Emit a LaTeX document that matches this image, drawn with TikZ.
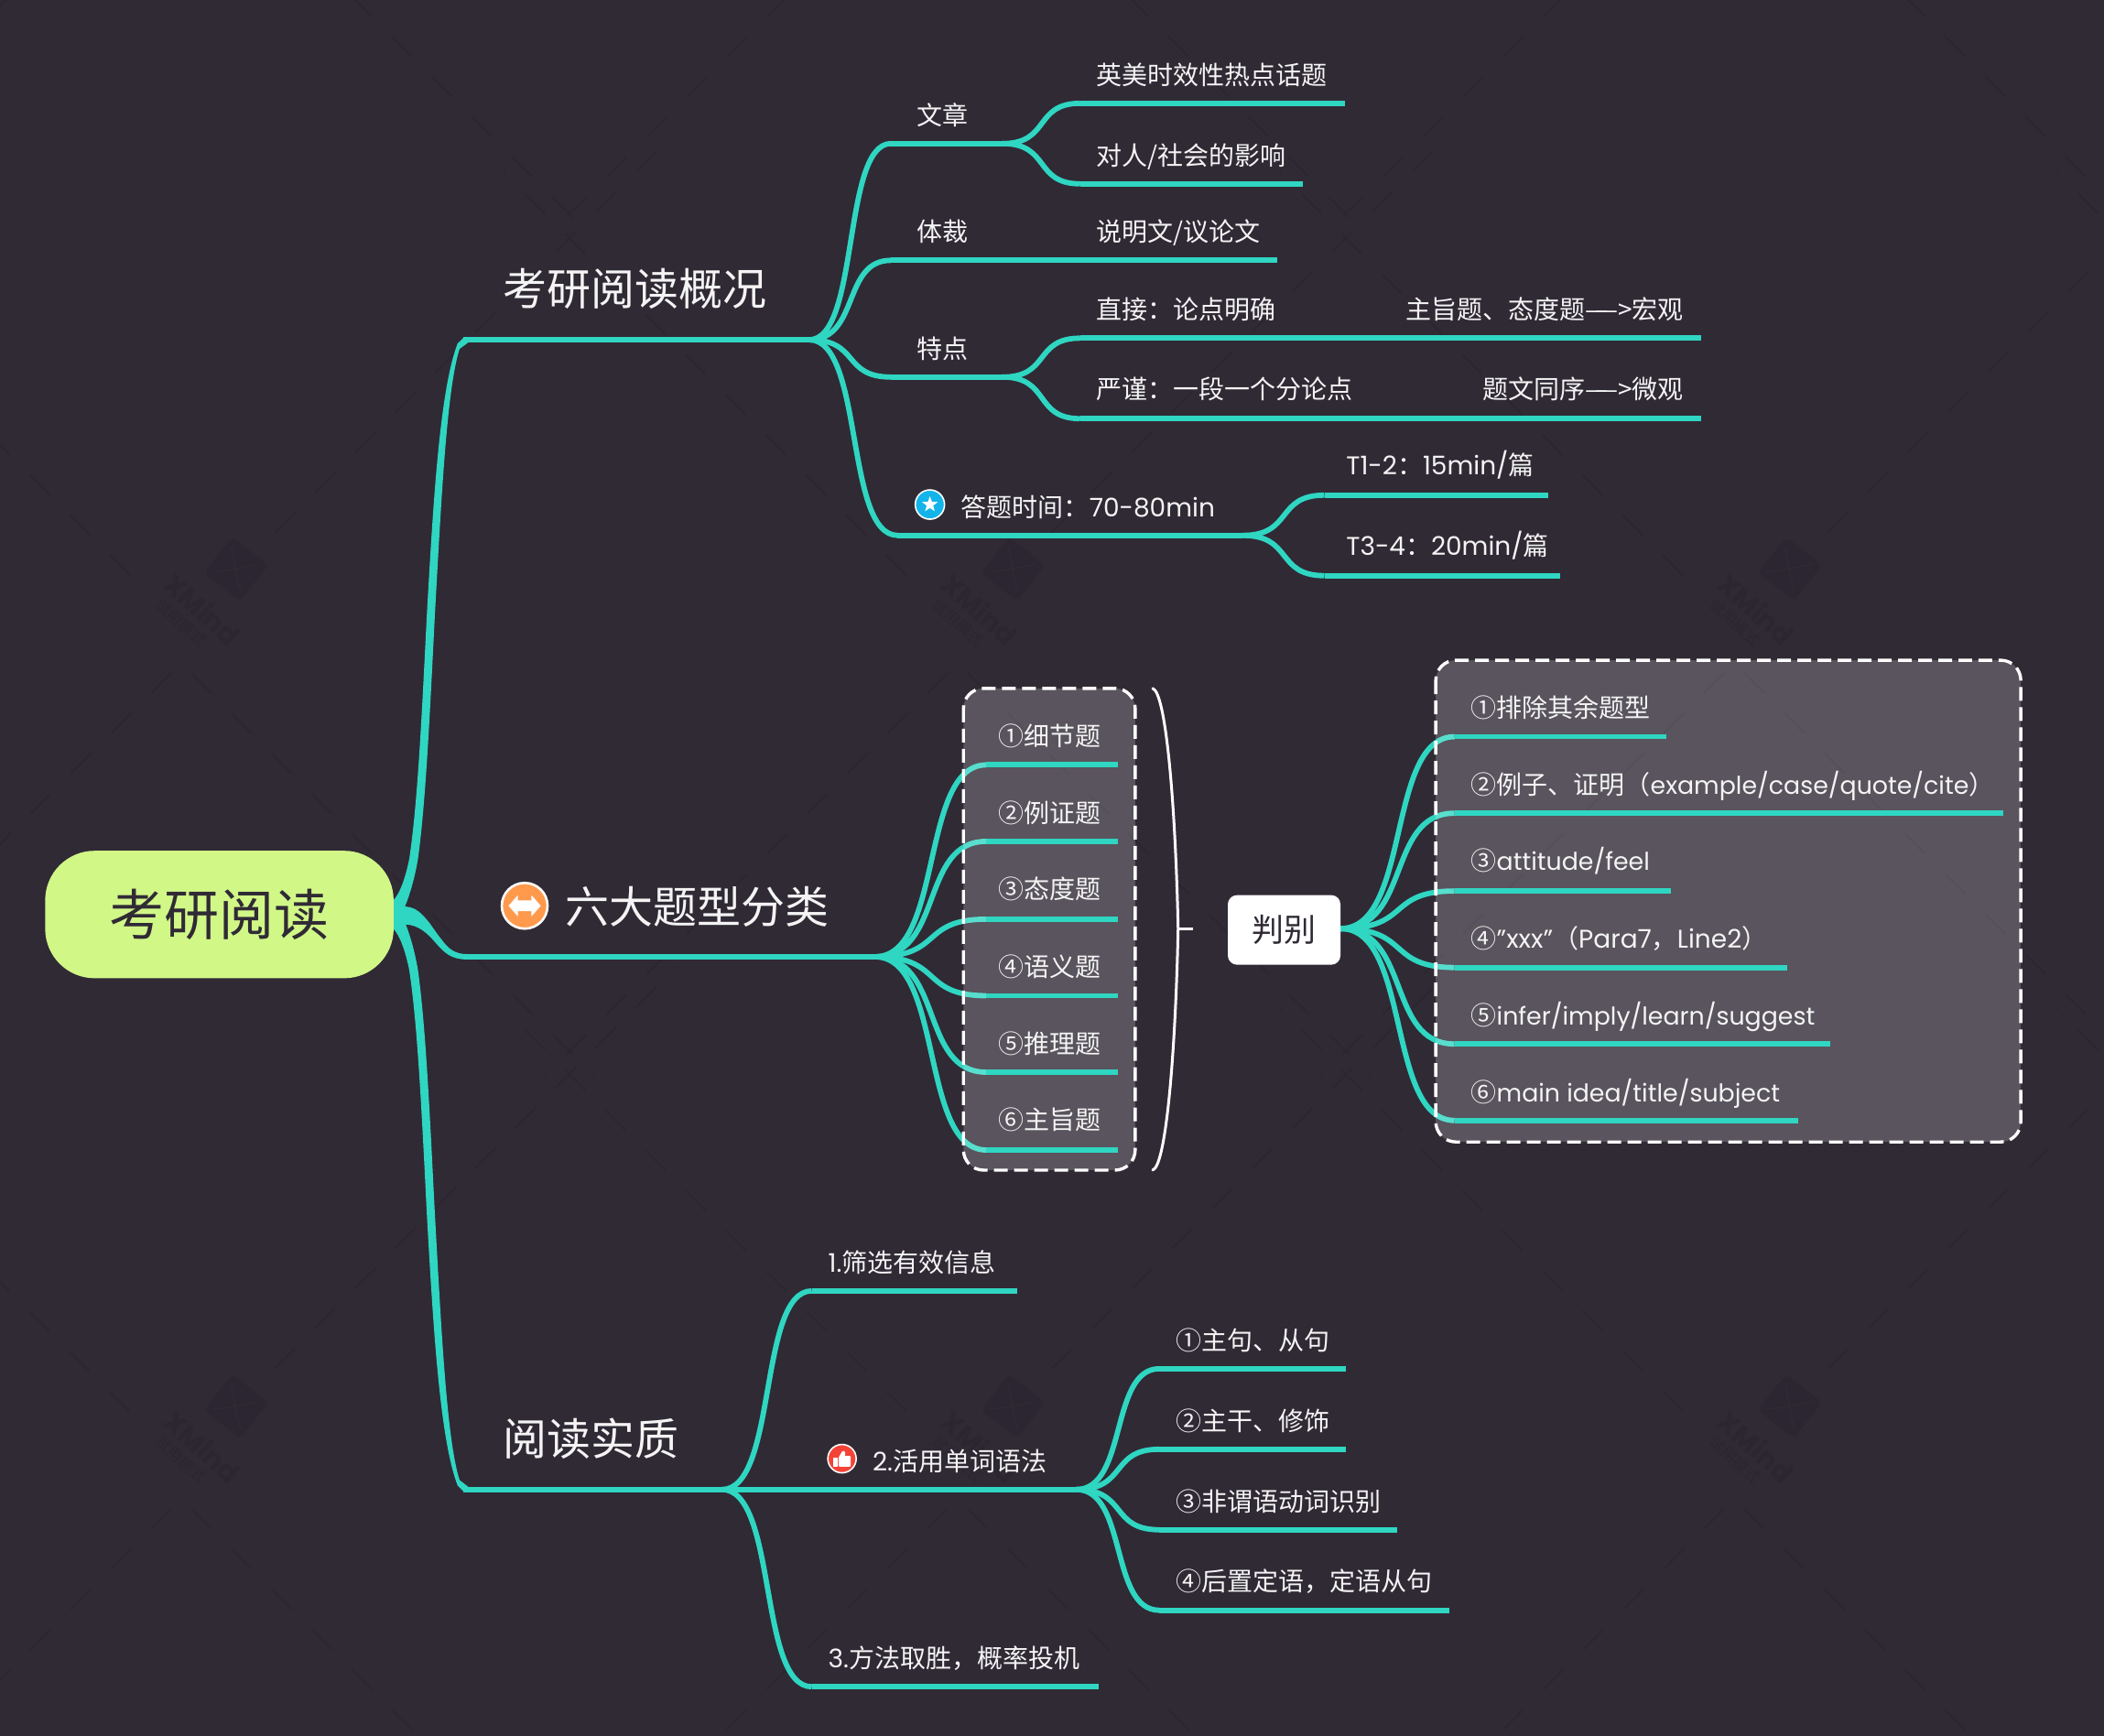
\documentclass[tikz,border=0pt]{standalone}
\usepackage{fontspec}
\usetikzlibrary{calc,shapes.geometric}
\setmainfont{Poppins}
\newfontfamily\cjk{Noto Sans CJK SC}
\newcommand{\C}[1]{{\cjk #1}}
\newcommand{\N}[1]{{\fontsize{13.4}{16}\selectfont #1}}
\definecolor{bgc}{HTML}{302A35}
\definecolor{teal1}{HTML}{2FD6C2}
\definecolor{pill}{HTML}{D1F787}
\definecolor{wm}{HTML}{2B2631}
\definecolor{txt}{HTML}{F4F4F4}
\tikzset{
  x=0.7328pt,y=-0.7328pt,
  branch/.style={draw=teal1,line width=2.9pt,line cap=butt},
  lab/.style={anchor=west,inner sep=0pt,text=txt,font=\fontsize{14}{16}\selectfont,text height=13pt,text depth=1.5pt},
  big/.style={lab,font=\fontsize{24}{28}\selectfont,text height=21pt,text depth=2.2pt},
  sumbox/.style={fill=white,fill opacity=.2,rounded corners=11pt},
  sumdash/.style={draw=white,line width=1.7pt,rounded corners=11pt,dash pattern=on 7.5pt off 3.5pt},
  wmline/.style={draw=wm,line width=1pt,dash pattern=on 15.5pt off 15.5pt},
}
\newcommand{\topic}[4]{\coordinate (#1-s) at (#2,#3); \coordinate (#1-e) at (#4,#3);}
\newcommand{\cv}[2]{\draw[branch] (#1-e) .. controls ($(#1-e)!.62!(#2-s |- #1-e)$) and ($(#2-s)!.6!(#1-e |- #2-s)$) .. (#2-s);}
\newcommand{\stl}[1]{\draw[branch] (#1-s) -- (#1-e);}
\newcommand{\br}[2]{\cv{#1}{#2}\stl{#2}}
\newcommand{\wmark}[3]{%
 \begin{scope}[shift={(#2,#3)}]
 \node[name=#1d,fill=wm,rounded corners=3pt,minimum size=25pt,inner sep=0pt,rotate=-38] at (0,0) {};
 \draw[bgc,line width=.8pt,line cap=round] (-3.4,-16) .. controls (-1,-4) and (0,6) .. (3.4,17) (-17,2.3) .. controls (-5,1) and (5,-1) .. (16,-3.4);
 \node[name=#1a,text=wm,font=\fontsize{15}{15}\selectfont\bfseries,rotate=-42,inner sep=0pt] at (-25,30) {XMind};
 \node[name=#1b,text=wm,font=\cjk\fontsize{8.5}{9}\selectfont,rotate=-42,inner sep=0pt] at (-41,40) {试用模式};
 \end{scope}}
\newcommand{\vmark}[2]{%
 \draw[wmline] (#1-38.2,#2-38.2) -- ++(-300,-300);
 \draw[wmline] (#1+70,#2-70) -- ++(300,-300);}
\newcommand{\amark}[2]{%
 \draw[wmline] (#1-7.5,#2+7.5) -- ++(-300,300);
 \draw[wmline] (#1+7.5,#2+7.5) -- ++(300,300);}
\begin{document}
\begin{tikzpicture}
\useasboundingbox (0,0) rectangle (1568,1293.6);
\fill[bgc] (0,0) rectangle (1568,1293.6);
\begin{scope}
\clip (0,0) rectangle (1568,1293.6);
\foreach \xx in {-443.7,135,713.7,1292.3,1871}{
  \foreach \yy in {466.7,1090,1713}{\vmark{\xx}{\yy}}
  \foreach \yy in {-130,494,1117}{\amark{\xx}{\yy}}
}
\end{scope}
\wmark{wa}{176}{424}\wmark{wb}{755}{424}\wmark{wc}{1334}{424}
\wmark{wd}{176}{1048}\wmark{we}{755}{1048}\wmark{wf}{1334}{1048}
% coordinates
\coordinate (root) at (293,680);
\topic{a}{345}{253.2}{603}
\topic{b}{345}{713}{652}
\topic{c}{345}{1110}{538}
\topic{a1}{664}{107}{747}
\topic{a11}{805}{77}{1002}
\topic{a12}{805}{137}{971}
\topic{a2}{664}{194}{952}
\topic{a3}{664}{281}{747}
\topic{a31}{805}{252}{1268}
\topic{a32}{805}{312}{1268}
\topic{a4}{669}{399}{926}
\topic{a41}{987}{369}{1154}
\topic{a42}{987}{429}{1163}
\topic{b1}{735}{570}{833}
\topic{b2}{735}{627}{833}
\topic{b3}{735}{685}{833}
\topic{b4}{735}{742}{833}
\topic{b5}{735}{799}{833}
\topic{b6}{735}{857}{833}
\topic{j}{915}{692}{999}
\topic{j1}{1084}{549}{1242}
\topic{j2}{1084}{606}{1493}
\topic{j3}{1084}{664}{1245}
\topic{j4}{1084}{721}{1332}
\topic{j5}{1084}{778}{1364}
\topic{j6}{1084}{835}{1340}
\topic{c1}{605}{962}{758}
\topic{c2}{538}{1110}{802}
\topic{c3}{605}{1257}{819}
\topic{c21}{864}{1020}{1003}
\topic{c22}{864}{1080}{1003}
\topic{c23}{864}{1140}{1041}
\topic{c24}{864}{1200}{1080}
% trunks
\fill[teal1] (293,671) .. controls (300,664) and (304,645) .. (305,640) .. controls (311,600) and (314,540) .. (318,460) .. controls (323,370) and (328,290) .. (341,256) -- (346,251.2) -- (349,255.2) -- (342.5,260) .. controls (333,290) and (329,370) .. (324,460) .. controls (320,540) and (317,600) .. (311.5,640) .. controls (309,655) and (305,668) .. (301.6,676) -- (293,684) -- cycle;
\fill[teal1] (293,692) .. controls (300,699) and (304,718) .. (305,723) .. controls (311,763) and (314,823) .. (318,903) .. controls (323,993) and (328,1073) .. (341,1107) -- (346,1112) -- (349,1108) -- (342.5,1103) .. controls (333,1073) and (329,993) .. (324,903) .. controls (320,823) and (317,763) .. (311.5,723) .. controls (309,708) and (305,695) .. (301.6,687) -- (293,680) -- cycle;
\fill[teal1] (293,675.5) -- (301.6,675.5) .. controls (308,676) and (311,678) .. (315,682) .. controls (321,688) and (324,694) .. (329,700) .. controls (334,707) and (339,711) .. (348,711) -- (348,715) .. controls (337,715) and (332,711) .. (325,703) .. controls (319,696) and (312,689) .. (302,689) -- (293,691) -- cycle;
\stl{a}\stl{b}\stl{c}
\br{a}{a1}\br{a}{a2}\br{a}{a3}\br{a}{a4}
\br{a1}{a11}\br{a1}{a12}\br{a3}{a31}\br{a3}{a32}\br{a4}{a41}\br{a4}{a42}
\cv{b}{b1}\cv{b}{b2}\cv{b}{b3}\cv{b}{b4}\cv{b}{b5}\cv{b}{b6}
\cv{j}{j1}\cv{j}{j2}\cv{j}{j3}\cv{j}{j4}\cv{j}{j5}\cv{j}{j6}
\br{c}{c1}\br{c}{c3}\stl{c2}
\br{c2}{c21}\br{c2}{c22}\br{c2}{c23}\br{c2}{c24}
% summary boxes over the curves
\path[sumbox] (718,513) rectangle (846,872);
\path[sumbox] (1070,492) rectangle (1506,851);
\stl{b1}\stl{b2}\stl{b3}\stl{b4}\stl{b5}\stl{b6}
\stl{j1}\stl{j2}\stl{j3}\stl{j4}\stl{j5}\stl{j6}
\draw[sumdash] (718,513) rectangle (846,872);
\draw[sumdash] (1070,492) rectangle (1506,851);
% bracket
\coordinate (brk) at (889,692);
\draw[white,line width=1.5pt,line cap=round] (859,513) .. controls (869,516) and (876,600) .. (878,692) .. controls (876,785) and (869,869) .. (859,872);
\draw[white,line width=1.5pt] (878,692) -- (brk);
% nodes
\node[name=nroot,fill=pill,text=bgc,rounded corners=27pt,minimum width=190.3pt,minimum height=69.6pt,inner sep=0pt,font=\cjk\fontsize{30}{34}\selectfont] at (163.5,681.5) {考研阅读};
\node[name=njudge,fill=white,text=bgc,rounded corners=5pt,minimum width=61.5pt,minimum height=38pt,inner sep=0pt,font=\cjk\fontsize{17.5}{20}\selectfont] at (957,693) {判别};
\node[big,name=ta] at (375,215) {\C{考研阅读概况}};
\node[big,name=tb] at (421,675) {\C{六大题型分类}};
\node[big,name=tc] at (375,1072) {\C{阅读实质}};
\node[lab,name=ta1] at (683,85) {\C{文章}};
\node[lab,name=ta11] at (817,55) {\C{英美时效性热点话题}};
\node[lab,name=ta12] at (817,115) {\C{对人/社会的影响}};
\node[lab,name=ta2] at (683,172) {\C{体裁}};
\node[lab,name=ta21] at (817,172) {\C{说明文/议论文}};
\node[lab,name=ta3] at (683,259) {\C{特点}};
\node[lab,name=ta31] at (817,230) {\C{直接：论点明确}};
\node[lab,name=ta31r,anchor=east] at (1255,230) {\C{主旨题、态度题—\kern-.5em —>宏观}};
\node[lab,name=ta32] at (817,289) {\C{严谨：一段一个分论点}};
\node[lab,name=ta32r,anchor=east] at (1255,289) {\C{题文同序—\kern-.5em —>微观}};
\node[lab,name=ta4] at (716,377) {\C{答题时间：}70-80min};
\node[lab,name=ta41] at (1003,346) {T1-2\C{：}15min/\C{篇}};
\node[lab,name=ta42] at (1003,406) {T3-4\C{：}20min/\C{篇}};
\node[lab,name=tb1] at (744,548) {\C{①细节题}};
\node[lab,name=tb2] at (744,605) {\C{②例证题}};
\node[lab,name=tb3] at (744,662) {\C{③态度题}};
\node[lab,name=tb4] at (744,720) {\C{④语义题}};
\node[lab,name=tb5] at (744,777) {\C{⑤推理题}};
\node[lab,name=tb6] at (744,834) {\C{⑥主旨题}};
\node[lab,name=tj1] at (1096,527) {\C{①排除其余题型}};
\node[lab,name=tj2] at (1096,584) {\C{②例子、证明（}\N{example/case/quote/cite}\C{）}};
\node[lab,name=tj3] at (1096,641) {\C{③}\N{attitude/feel}};
\node[lab,name=tj4] at (1096,699) {\C{④}"xxx"\C{（}Para7\C{，}Line2\C{）}};
\node[lab,name=tj5] at (1096,756) {\C{⑤}\N{infer/imply/learn/suggest}};
\node[lab,name=tj6] at (1096,813) {\C{⑥}\N{main idea/title/subject}};
\node[lab,name=tc1] at (617,940) {1.\C{筛选有效信息}};
\node[lab,name=tc2] at (650,1088) {2.\C{活用单词语法}};
\node[lab,name=tc3] at (617,1235) {3.\C{方法取胜，概率投机}};
\node[lab,name=tc21] at (876,998) {\C{①主句、从句}};
\node[lab,name=tc22] at (876,1058) {\C{②主干、修饰}};
\node[lab,name=tc23] at (876,1118) {\C{③非谓语动词识别}};
\node[lab,name=tc24] at (876,1178) {\C{④后置定语，定语从句}};
% icons
\definecolor{iblue}{HTML}{12B4EA}
\definecolor{iorange}{HTML}{FF9A4D}
\definecolor{ired}{HTML}{F44336}
\node[name=istar,circle,draw=white,fill=iblue,line width=.8pt,minimum size=16pt,inner sep=0pt] at (693,376) {};
\node[name=istars,star,star points=5,star point ratio=2.4,fill=white,minimum size=9pt,inner sep=0pt] at (693,376) {};
\node[name=iarrow,circle,draw=white,fill=iorange,line width=1.3pt,minimum size=25pt,inner sep=0pt] at (391,675) {};
\fill[white] (379,675) -- (386,667) -- (386,671) -- (396,671) -- (396,667) -- (403,675) -- (396,683) -- (396,679) -- (386,679) -- (386,683) -- cycle;
\node[name=ithumb,circle,draw=white,fill=ired,line width=.8pt,minimum size=15.5pt,inner sep=0pt] at (627.5,1087) {};
\fill[white] (621,1086) rectangle (624,1093);
\fill[white,rounded corners=.5pt] (625,1093) -- (625,1086) -- (628,1081) -- (630,1082) -- (629.5,1085) -- (634,1085) -- (634,1093) -- cycle;
\end{tikzpicture}
\end{document}
